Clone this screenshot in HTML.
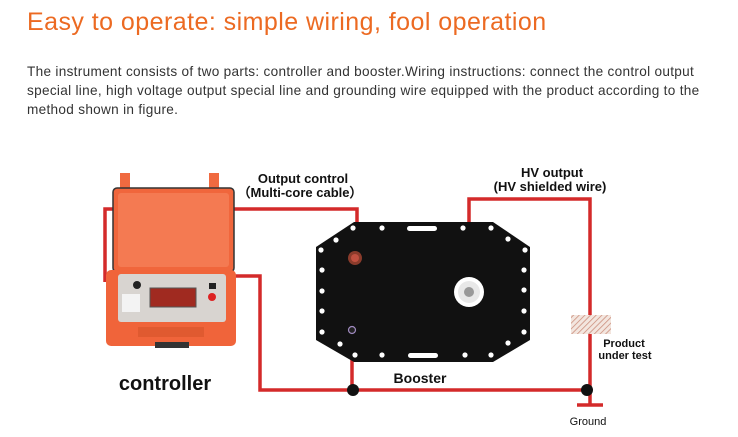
<!DOCTYPE html>
<html><head><style>
body{margin:0;width:738px;height:437px;background:#fff;overflow:hidden;font-family:"Liberation Sans",sans-serif}
h1{position:absolute;left:27px;top:8px;margin:0;font-size:25px;font-weight:normal;color:#ec6a22;letter-spacing:0.45px}
p{position:absolute;left:27px;top:62px;margin:0;width:690px;font-size:13.6px;line-height:19px;color:#333;letter-spacing:0.3px}
svg{position:absolute;left:0;top:0}
</style></head><body>
<h1>Easy to operate: simple wiring, fool operation</h1>
<p>The instrument consists of two parts: controller and booster.Wiring instructions: connect the control output special line, high voltage output special line and grounding wire equipped with the product according to the method shown in figure.</p>
<svg width="738" height="437" font-family="Liberation Sans, sans-serif">
<defs><pattern id="h" width="4" height="4" patternUnits="userSpaceOnUse" patternTransform="rotate(45)"><rect width="4" height="4" fill="#f3e6df"/><line x1="0" y1="0" x2="0" y2="4" stroke="#c98a78" stroke-width="1.5"/></pattern></defs>
<g stroke="#d42a2a" stroke-width="3.5" fill="none">
<polyline points="105,282 105,209 357,209 357,257"/>
<polyline points="234,276 260,276 260,390 587,390"/>
<polyline points="352,330 352,390"/>
<polyline points="469,292 469,199 590,199 590,316"/>
<polyline points="590,334 590,405"/>
<line x1="577" y1="405" x2="603" y2="405"/>
</g>
<rect x="120" y="173" width="10" height="18" fill="#f06a40"/><rect x="209" y="173" width="10" height="18" fill="#f06a40"/>
<rect x="113" y="188" width="121" height="84" rx="4" fill="#f0663c" stroke="#333" stroke-width="1.5"/>
<rect x="118" y="193" width="111" height="74" rx="3" fill="#f47a52"/>
<rect x="106" y="270" width="130" height="76" rx="5" fill="#f0643a"/>
<rect x="118" y="274" width="108" height="48" rx="3" fill="#d8d4d0"/>
<rect x="150" y="288" width="46" height="19" fill="#a02a20" stroke="#555"/>
<rect x="122" y="294" width="18" height="18" fill="#f3f3f3"/>
<circle cx="137" cy="285" r="4" fill="#222"/>
<rect x="209" y="283" width="7" height="6" fill="#222"/>
<circle cx="212" cy="297" r="4" fill="#d22"/>
<rect x="138" y="327" width="66" height="10" fill="#e05a30"/><rect x="155" y="342" width="34" height="6" fill="#333"/>
<polygon points="354,222 493,222 530,247 530,340 493,362 354,362 316,340 316,247" fill="#111"/>
<g fill="#fff">
<circle cx="353" cy="228" r="2.6"/><circle cx="382" cy="228" r="2.6"/><circle cx="463" cy="228" r="2.6"/><circle cx="491" cy="228" r="2.6"/>
<circle cx="336" cy="240" r="2.6"/><circle cx="508" cy="239" r="2.6"/>
<circle cx="321" cy="250" r="2.6"/><circle cx="525" cy="250" r="2.6"/>
<circle cx="322" cy="270" r="2.6"/><circle cx="524" cy="270" r="2.6"/>
<circle cx="322" cy="291" r="2.6"/><circle cx="524" cy="290" r="2.6"/>
<circle cx="322" cy="311" r="2.6"/><circle cx="524" cy="311" r="2.6"/>
<circle cx="322" cy="332" r="2.6"/><circle cx="524" cy="332" r="2.6"/>
<circle cx="340" cy="344" r="2.6"/><circle cx="508" cy="343" r="2.6"/>
<circle cx="355" cy="355" r="2.6"/><circle cx="382" cy="355" r="2.6"/><circle cx="465" cy="355" r="2.6"/><circle cx="491" cy="355" r="2.6"/>
<rect x="407" y="226" width="30" height="5" rx="2.5"/><rect x="408" y="353" width="30" height="5" rx="2.5"/>
<circle cx="469" cy="292" r="15"/>
</g>
<circle cx="469" cy="292" r="11" fill="#e8e8e8"/><circle cx="469" cy="292" r="5" fill="#999"/>
<circle cx="355" cy="258" r="7" fill="#8a3b2b"/><circle cx="355" cy="258" r="4" fill="#c05040"/>
<circle cx="352" cy="330" r="3.5" fill="#222" stroke="#a08ac0" stroke-width="1.2"/>
<rect x="571" y="315" width="40" height="19" fill="url(#h)"/>
<circle cx="353" cy="390" r="6" fill="#111"/><circle cx="587" cy="390" r="6" fill="#111"/>
<g font-weight="bold" fill="#111" text-anchor="middle">
<text x="303" y="183" font-size="13">Output control</text>
<text x="300" y="197" font-size="13">（Multi-core cable）</text>
<text x="552" y="177" font-size="13">HV output</text>
<text x="550" y="191" font-size="13">(HV shielded wire)</text>
<text x="420" y="383" font-size="14">Booster</text>
<text x="165" y="390" font-size="20">controller</text>
<text x="624" y="347" font-size="11">Product</text>
<text x="625" y="359" font-size="11">under test</text>
<text x="588" y="425" font-size="11" font-weight="normal">Ground</text>
</g>
</svg>
</body></html>
